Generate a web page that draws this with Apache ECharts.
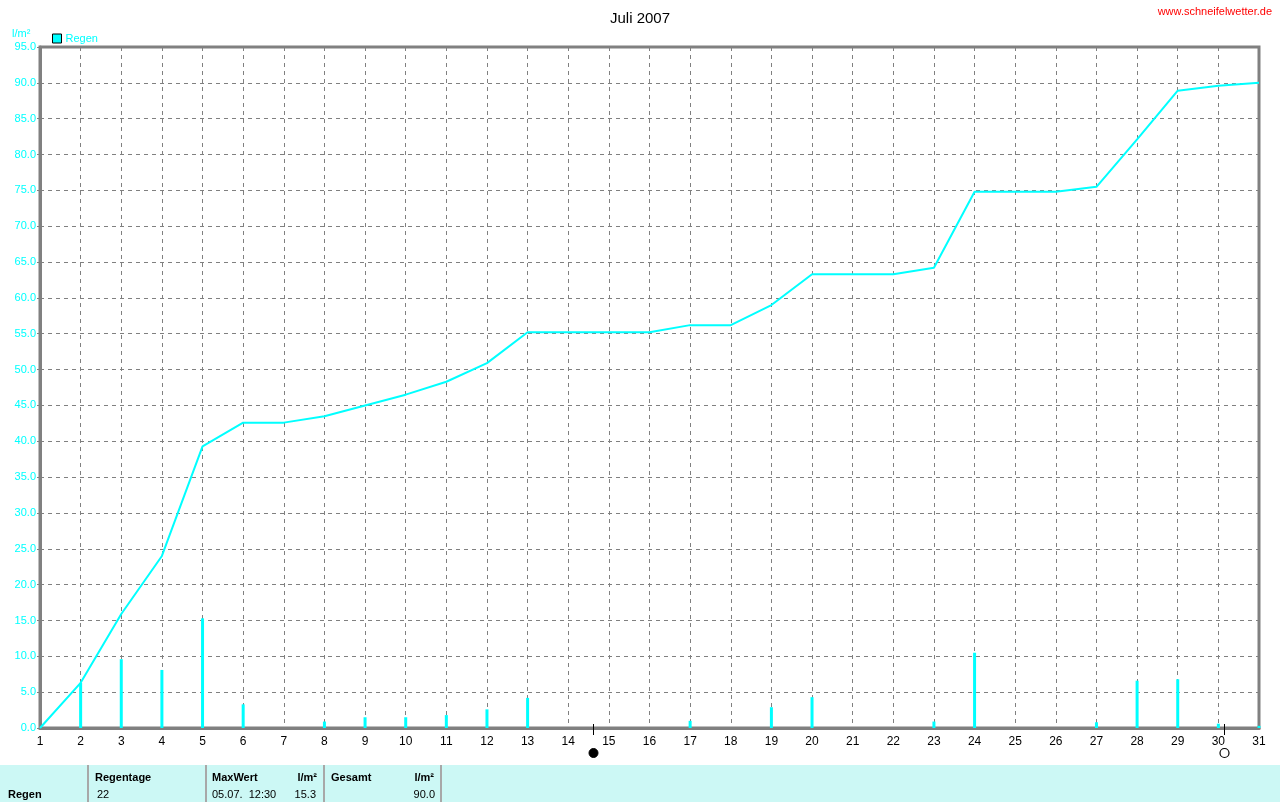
<!DOCTYPE html>
<html>
<head>
<meta charset="utf-8">
<script src="https://cdn.jsdelivr.net/npm/echarts@6/dist/echarts.min.js"></script>
<style>
html,body{margin:0;padding:0;background:#fff;}
#c{width:1280px;height:802px;}
</style>
</head>
<body>
<div id="c"></div>
<script>
const days = [1,2,3,4,5,6,7,8,9,10,11,12,13,14,15,16,17,18,19,20,21,22,23,24,25,26,27,28,29,30,31];
const dailyRain = [0,6.3,9.6,8.1,15.3,3.3,0,0.9,1.5,1.5,1.8,2.6,4.2,0,0,0,1.0,0,2.9,4.3,0,0,0.9,10.5,0,0,0.8,6.6,6.8,0.6,0.3];
const cumRain = [0,6.3,15.9,24.0,39.3,42.6,42.6,43.5,45.0,46.5,48.3,50.9,55.2,55.2,55.2,55.2,56.2,56.2,59.0,63.3,63.3,63.3,64.2,74.8,74.8,74.8,75.5,82.1,88.9,89.6,90.0];
const moonDays = [14.62, 30.14];
const moonKinds = ['new', 'full'];
const titleText = 'Juli 2007';
const unitText = 'l/m\u00B2';
const tableHeaders = ['Regentage', 'MaxWert', 'l/m\u00B2', 'Gesamt', 'l/m\u00B2'];
const tableValues = ['22', '05.07.  12:30', '15.3', '90.0'];

const FONT = '"Liberation Sans", Arial, sans-serif';
const CYAN = '#00ffff';
const chart = echarts.init(document.getElementById('c'), null, {renderer: 'canvas'});

const option = {
  animation: false,
  backgroundColor: '#ffffff',
  textStyle: {fontFamily: FONT},
  title: {
    text: titleText, left: 'center', top: 6,
    textStyle: {fontSize: 15, fontWeight: 'normal', color: '#000', fontFamily: FONT}
  },
  legend: {
    data: ['Regen'], left: 47, top: 28, icon: 'rect', itemWidth: 9, itemHeight: 9, itemGap: 4,
    itemStyle: {borderColor: '#000', borderWidth: 1},
    textStyle: {color: CYAN, fontSize: 11, fontFamily: FONT, padding: [0,0,0,-1]}
  },
  grid: {left: 40, right: 21, top: 47, bottom: 74, show: true, borderColor: '#808080', borderWidth: 3, backgroundColor: 'transparent'},
  xAxis: {
    type: 'value', min: 1, max: 31, interval: 1,
    axisLine: {show: true, lineStyle: {color: '#808080', width: 3}},
    axisTick: {show: false},
    axisLabel: {color: '#000', fontSize: 12, margin: 8, fontFamily: FONT},
    splitLine: {show: true, lineStyle: {color: '#808080', type: [4, 4], width: 1}}
  },
  yAxis: {
    type: 'value', min: 0, max: 95, interval: 5,
    axisLine: {show: true, lineStyle: {color: '#808080', width: 3}},
    axisTick: {show: true, length: 3, lineStyle: {color: '#808080'}},
    axisLabel: {color: CYAN, fontSize: 11, margin: 4, fontFamily: FONT, formatter: v => v.toFixed(1)},
    splitLine: {show: true, lineStyle: {color: '#808080', type: [4, 4], width: 1}}
  },
  series: [
    {
      name: 'Regen', type: 'bar', barWidth: 3,
      itemStyle: {color: CYAN},
      data: days.map((d, i) => [d, dailyRain[i]]),
      z: 3
    },
    {
      name: 'Summe', type: 'line', symbol: 'none',
      lineStyle: {color: CYAN, width: 2},
      itemStyle: {color: CYAN},
      data: days.map((d, i) => [d, cumRain[i]]),
      z: 4
    }
  ]
};
chart.setOption(option);

function buildGraphics() {
  const els = [];
  els.push({type: 'text', left: 12, top: 28, style: {text: unitText, fill: CYAN, font: '11px ' + FONT}});
  els.push({type: 'text', right: 8, top: 6, style: {text: 'www.schneifelwetter.de', fill: '#ff0000', font: '11px ' + FONT}});
  const y0 = chart.convertToPixel({yAxisIndex: 0}, 0);
  moonDays.forEach((d, i) => {
    const x = Math.round(chart.convertToPixel({xAxisIndex: 0}, d)) + 0.5;
    els.push({type: 'line', shape: {x1: x, y1: y0 - 4, x2: x, y2: y0 + 7}, style: {stroke: '#000', lineWidth: 1}, z: 10});
    els.push({type: 'circle', shape: {cx: x, cy: y0 + 25, r: 4.5},
      style: moonKinds[i] === 'new' ? {fill: '#000', stroke: '#000', lineWidth: 1} : {fill: '#fff', stroke: '#000', lineWidth: 1.2}, z: 10});
  });
  // table
  els.push({type: 'rect', shape: {x: 0, y: 765, width: 1280, height: 37}, style: {fill: '#ccf8f5'}, z: 1});
  [88, 206, 324, 441].forEach(x => {
    els.push({type: 'line', shape: {x1: x, y1: 765, x2: x, y2: 802}, style: {stroke: '#a8a8a8', lineWidth: 2}, z: 2});
  });
  const bold = 'bold 11px ' + FONT, norm = '11px ' + FONT;
  const T = (x, y, text, font, align) => els.push({type: 'text', x: x, y: y, style: {text: text, font: font, fill: '#000', textAlign: align || 'left', textVerticalAlign: 'middle'}, z: 3});
  T(8, 795, 'Regen', bold);
  T(95, 778, tableHeaders[0], bold);
  T(212, 778, tableHeaders[1], bold);
  T(317, 778, tableHeaders[2], bold, 'right');
  T(331, 778, tableHeaders[3], bold);
  T(434, 778, tableHeaders[4], bold, 'right');
  T(97, 795, tableValues[0], norm);
  T(212, 795, tableValues[1], norm);
  T(316, 795, tableValues[2], norm, 'right');
  T(435, 795, tableValues[3], norm, 'right');
  chart.setOption({graphic: {elements: els}});
}
buildGraphics();
</script>
</body>
</html>
